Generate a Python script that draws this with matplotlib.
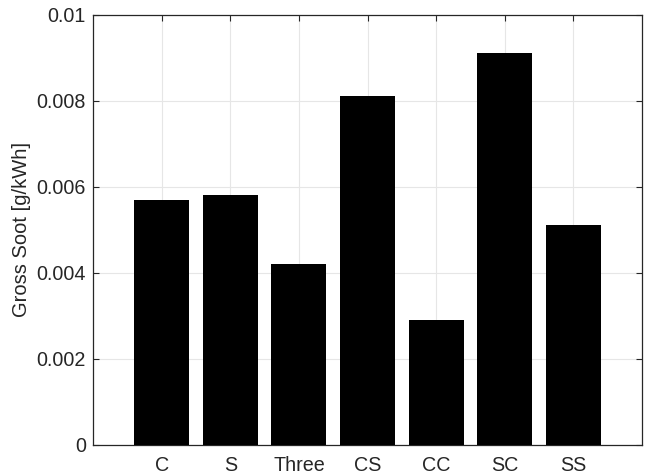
import matplotlib.pyplot as plt

categories = ['C', 'S', 'Three', 'CS', 'CC', 'SC', 'SS']
soot = [0.0057, 0.0058, 0.0042, 0.0081, 0.0029, 0.0091, 0.0051]
yticks = [0, 0.002, 0.004, 0.006, 0.008, 0.01]
ytick_labels = ['0', '0.002', '0.004', '0.006', '0.008', '0.01']

plt.rcParams['font.family'] = ['Liberation Sans', 'DejaVu Sans']
plt.rcParams['font.size'] = 14.2

fig = plt.figure(figsize=(6.47, 4.75), dpi=100)
ax = fig.add_axes([93 / 647, 30 / 475, 549 / 647, 430.5 / 475])

pos = list(range(1, len(categories) + 1))
ax.bar(pos, soot, width=0.8, color='black', zorder=3)

ax.set_xlim(0, 8)
ax.set_ylim(0, 0.01)
ax.set_xticks(pos)
ax.set_xticklabels(categories)
ax.set_yticks(yticks)
ax.set_yticklabels(ytick_labels)
ax.set_ylabel('Gross Soot [g/kWh]', color='#262626', fontsize=14.5, labelpad=4)

ax.grid(True, color='#e6e6e6', linewidth=0.8, zorder=0)
ax.tick_params(direction='in', top=True, right=True, length=4, colors='#262626',
               labelcolor='#262626')
ax.tick_params(axis='x', pad=8)
ax.tick_params(axis='y', pad=5)
for s in ax.spines.values():
    s.set_color('#262626')
    s.set_linewidth(0.9)

fig.savefig('out.png', dpi=100)
